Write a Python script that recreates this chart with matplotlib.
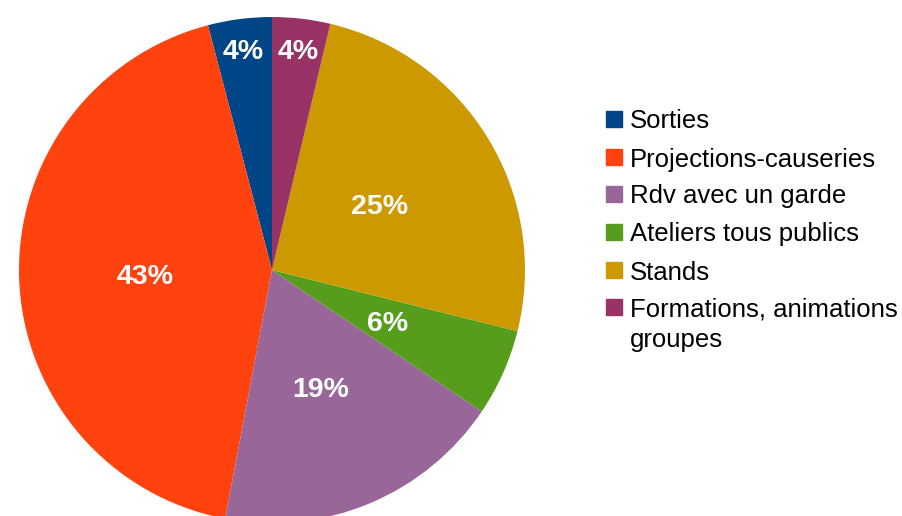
import numpy as np
import matplotlib.pyplot as plt
from matplotlib.patches import Rectangle

plt.rcParams["font.family"] = ["Liberation Sans", "DejaVu Sans"]

labels = ["Sorties", "Projections-causeries", "Rdv avec un garde",
          "Ateliers tous publics", "Stands", "Formations, animations\ngroupes"]
values = [11, 116, 50, 15, 68, 10]
colors = ["#004586", "#ff420e", "#996699", "#579d1c", "#cc9900", "#993366"]

fig = plt.figure(figsize=(9.03, 5.16), dpi=100)
ax = fig.add_axes([19 / 903, (246 - 253) / 516, 506 / 903, 506 / 516])

wedges, texts, autotexts = ax.pie(values, colors=colors, startangle=90,
                                  counterclock=True, radius=1,
                                  autopct=lambda p: f"{p:.0f}%",
                                  wedgeprops=dict(linewidth=0))
ax.set_xlim(-1, 1)
ax.set_ylim(-1, 1)

total = sum(values)
for w, t, v in zip(wedges, autotexts, values):
    mid = np.deg2rad((w.theta1 + w.theta2) / 2)
    r = 0.88 if v / total < 0.05 else 0.5
    t.set_position((r * np.cos(mid), r * np.sin(mid)))
    t.set_color("white")
    t.set_fontweight("bold")
    t.set_fontsize(20.5)
    t.set_ha("center")
    t.set_va("center_baseline")

# legend
row_y = [119, 157, 194, 232, 270, 307]
for y, lab, col in zip(row_y, labels, colors):
    fig.patches.append(Rectangle((606 / 903, 1 - (y + 8) / 516), 16 / 903, 16 / 516,
                                 transform=fig.transFigure, color=col))
    if "\n" in lab:
        fig.text(630 / 903, 1 - (y - 10) / 516, lab, fontsize=18.5, va="top",
                 linespacing=1.36)
    else:
        fig.text(630 / 903, 1 - y / 516, lab, fontsize=18.5, va="center_baseline")

fig.savefig("out.png", dpi=100)
